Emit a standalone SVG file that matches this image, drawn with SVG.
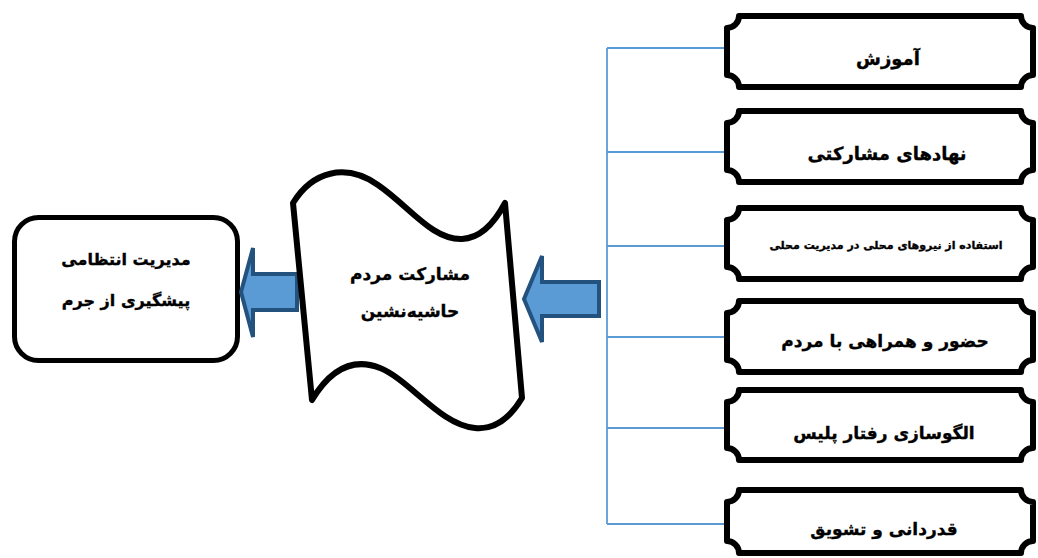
<svg xmlns="http://www.w3.org/2000/svg" width="1038" height="558" viewBox="0 0 1038 558">
<defs>
<style>
.plaque{fill:#fff;stroke:#000;stroke-width:6;stroke-linejoin:round}
.t{font-family:"DejaVu Sans","Noto Sans",sans-serif;font-weight:bold;fill:#000;stroke:#000;stroke-width:0.35;text-anchor:middle;direction:rtl}
.conn{stroke:#5B9BD5;stroke-width:1.8;fill:none}
.arrow{fill:#5B9BD5;stroke:#24527F;stroke-width:4;stroke-linejoin:miter}
</style>
</defs>
<rect width="1038" height="558" fill="#fff"/>
<g id="connectors">
<line class="conn" x1="607" y1="48" x2="607" y2="524"/>
<line class="conn" x1="607" y1="48" x2="727" y2="48"/>
<line class="conn" x1="607" y1="152" x2="733" y2="152"/>
<line class="conn" x1="607" y1="246" x2="733" y2="246"/>
<line class="conn" x1="607" y1="337" x2="733" y2="337"/>
<line class="conn" x1="607" y1="428" x2="733" y2="428"/>
<line class="conn" x1="607" y1="524" x2="735" y2="524"/>
</g>
<g id="box1">
<path class="plaque" d="M739 16 L1021 16 A12 12 0 0 0 1033 28 L1033 75 A12 12 0 0 0 1021 87 L739 87 A12 12 0 0 0 727 75 L727 28 A12 12 0 0 0 739 16 Z"/>
<text class="t" x="888" y="65" font-size="18">آموزش</text>
</g>
<g id="box2">
<path class="plaque" d="M739 111 L1021 111 A12 12 0 0 0 1033 123 L1033 170 A12 12 0 0 0 1021 182 L739 182 A12 12 0 0 0 727 170 L727 123 A12 12 0 0 0 739 111 Z"/>
<text class="t" x="887" y="160" font-size="18">نهادهای مشارکتی</text>
</g>
<g id="box3">
<path class="plaque" d="M739 208 L1021 208 A12 12 0 0 0 1033 220 L1033 267 A12 12 0 0 0 1021 279 L739 279 A12 12 0 0 0 727 267 L727 220 A12 12 0 0 0 739 208 Z"/>
<text class="t" x="886" y="249" font-size="11">استفاده از نیروهای محلی در مدیریت محلی</text>
</g>
<g id="box4">
<path class="plaque" d="M739 301 L1021 301 A12 12 0 0 0 1033 313 L1033 360 A12 12 0 0 0 1021 372 L739 372 A12 12 0 0 0 727 360 L727 313 A12 12 0 0 0 739 301 Z"/>
<text class="t" x="885" y="347" font-size="17">حضور و همراهی با مردم</text>
</g>
<g id="box5">
<path class="plaque" d="M739 390 L1021 390 A12 12 0 0 0 1033 402 L1033 448 A12 12 0 0 0 1021 460 L739 460 A12 12 0 0 0 727 448 L727 402 A12 12 0 0 0 739 390 Z"/>
<text class="t" x="884" y="439" font-size="17">الگوسازی رفتار پلیس</text>
</g>
<g id="box6">
<path class="plaque" d="M739 490 L1021 490 A12 12 0 0 0 1033 502 L1033 541 A12 12 0 0 0 1021 553 L739 553 A12 12 0 0 0 727 541 L727 502 A12 12 0 0 0 739 490 Z"/>
<text class="t" x="884" y="535" font-size="17">قدردانی و تشویق</text>
</g>
<g id="left-box">
<rect x="14.5" y="217.5" width="223" height="143" rx="24" ry="24" fill="#fff" stroke="#000" stroke-width="5"/>
<text class="t" x="126" y="265" font-size="16">مدیریت انتظامی</text>
<text class="t" x="126" y="306" font-size="16">پیشگیری از جرم</text>
</g>
<g id="arrow-left">
<polygon class="arrow" points="241,292 253,248 253,274 297,274 297,310 253,310 253,337"/>
</g>
<g id="wave">
<path d="M293 203 C312 172 345 162 378 185 C410 207 432 240 462 239 C482 238 495 222 505 203 L522 398 C510 418 495 430 475 428 C440 425 410 380 380 368 C352 357 330 370 312 400 Z" fill="#fff" stroke="#000" stroke-width="6" stroke-linejoin="round"/>
<text class="t" x="410" y="280" font-size="17">مشارکت مردم</text>
<text class="t" x="410" y="317" font-size="17">حاشیه‌نشین</text>
</g>
<g id="arrow-right">
<polygon class="arrow" points="524,299 542,256 542,282 599,282 599,316 542,316 542,342"/>
</g>
</svg>
